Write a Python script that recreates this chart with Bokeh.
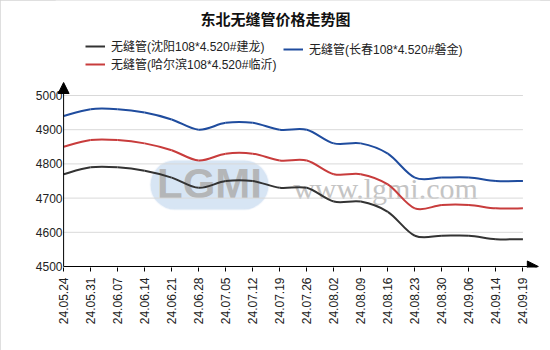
import math
from bokeh.plotting import figure
from bokeh.models import (Range1d, FixedTicker, Legend, LegendItem, Label, Arrow,
                          NormalHead, ColumnDataSource, BoxAnnotation)
from bokeh.embed import file_html
from bokeh.resources import INLINE

# ---- data ----
dates = ["24.05.24", "24.05.31", "24.06.07", "24.06.14", "24.06.21", "24.06.28",
         "24.07.05", "24.07.12", "24.07.19", "24.07.26", "24.08.02", "24.08.09",
         "24.08.16", "24.08.23", "24.08.30", "24.09.06", "24.09.14", "24.09.19"]
shenyang = [4770, 4790, 4790, 4780, 4760, 4730, 4750, 4750, 4730, 4730,
            4690, 4690, 4660, 4590, 4590, 4590, 4580, 4580]
changchun = [4940, 4960, 4960, 4950, 4930, 4900, 4920, 4920, 4900, 4900,
             4860, 4860, 4830, 4760, 4760, 4760, 4750, 4750]
harbin = [4850, 4870, 4870, 4860, 4840, 4810, 4830, 4830, 4810, 4810,
          4770, 4770, 4740, 4670, 4680, 4680, 4670, 4670]
y_ticks = [4500, 4600, 4700, 4800, 4900, 5000]
title_text = "东北无缝管价格走势图"

series = [
    ("无缝管(沈阳108*4.520#建龙)", shenyang, "#333333"),
    ("无缝管(长春108*4.520#磐金)", changchun, "#1f4c9e"),
    ("无缝管(哈尔滨108*4.520#临沂)", harbin, "#c83c3c"),
]

FONT = "Liberation Sans, 'Noto Sans CJK SC'"

n = len(dates)
xs = list(range(n))
X0, X1 = -0.3, 17.65
PX = 0.342          # pixels per price unit
Y0 = 4497.08
Y1 = Y0 + 267 / PX
Y_ARROW = 5038

p = figure(width=550, height=350, output_backend="svg", toolbar_location=None,
           title=None,
           x_range=Range1d(X0, X1), y_range=Range1d(Y0, Y1),
           min_border_left=55, min_border_right=10, min_border_top=0,
           min_border_bottom=83)
p.outline_line_color = None
p.background_fill_color = "white"
p.border_fill_color = "white"
p.xgrid.visible = False
p.ygrid.visible = False
p.styles = {"outline": "1px solid #d4d4d4", "outline-offset": "-1px"}

# watermark (logo + url), under the data
p.add_layout(BoxAnnotation(left=95, right=213, top=107, bottom=58,
                           left_units="screen", right_units="screen",
                           top_units="screen", bottom_units="screen",
                           fill_color="#c6daf0", fill_alpha=0.7, line_color="#dfe9f6",
                           line_width=2, border_radius=26, level="underlay"))
p.add_layout(Label(x=154, y=84, x_units="screen", y_units="screen", text="LGMI",
                   text_font="Liberation Sans", text_font_size="42px", text_font_style="bold",
                   text_color="#b0b0b0", text_alpha=0.9, text_align="center",
                   text_baseline="middle", level="underlay"))
p.add_layout(Label(x=330, y=79, x_units="screen", y_units="screen", text="www.lgmi.com",
                   text_font="Liberation Serif", text_font_size="30px", text_color="#c4c4c4",
                   text_align="center", text_baseline="alphabetic", level="underlay"))

# horizontal grid lines
gx0 = [xs[0]] * (len(y_ticks) - 1)
gx1 = [xs[-1]] * (len(y_ticks) - 1)
p.segment(x0=gx0, y0=y_ticks[1:], x1=gx1, y1=y_ticks[1:], line_color="#d9d9d9", line_width=1)

# smooth curves (bezier segments through data points)
renderers = []
for name, ys, col in series:
    x0, y0, x1, y1, cx0, cy0, cx1, cy1 = [], [], [], [], [], [], [], []
    for i in range(n - 1):
        ip = max(i - 1, 0)
        inn = min(i + 2, n - 1)
        x0.append(xs[i]); y0.append(ys[i])
        x1.append(xs[i + 1]); y1.append(ys[i + 1])
        cx0.append(xs[i] + (xs[i + 1] - xs[ip]) / 6)
        cy0.append(ys[i] + (ys[i + 1] - ys[ip]) / 6)
        cx1.append(xs[i + 1] - (xs[inn] - xs[i]) / 6)
        cy1.append(ys[i + 1] - (ys[inn] - ys[i]) / 6)
    src = ColumnDataSource(dict(x0=x0, y0=y0, x1=x1, y1=y1, cx0=cx0, cy0=cy0, cx1=cx1, cy1=cy1))
    p.bezier(x0="x0", y0="y0", x1="x1", y1="y1", cx0="cx0", cy0="cy0", cx1="cx1", cy1="cy1",
             source=src, line_color=col, line_width=2)
    # single-point line: draws nothing itself, used for the legend sample
    r = p.line(x=xs[:1], y=ys[:1], line_color=col, line_width=2)
    renderers.append(r)

# axes (lines hidden, drawn as arrows below)
p.xaxis.ticker = FixedTicker(ticks=xs)
p.xaxis.major_label_overrides = {i: d for i, d in enumerate(dates)}
p.xaxis.major_label_orientation = math.pi / 2
p.xaxis.minor_tick_line_color = None
p.xaxis.major_tick_out = 4
p.xaxis.major_tick_in = 0
p.xaxis.major_label_standoff = 6
p.xaxis.axis_line_color = None
p.xaxis.major_tick_line_color = "black"

p.yaxis.ticker = FixedTicker(ticks=y_ticks)
p.yaxis.minor_tick_line_color = None
p.yaxis.major_tick_out = 0
p.yaxis.major_tick_in = 0
p.yaxis.major_label_standoff = -7
p.yaxis.axis_line_color = None

for ax in (p.xaxis, p.yaxis):
    ax.major_label_text_font = FONT
    ax.major_label_text_font_size = "12px"
    ax.major_label_text_color = "#222222"

# axis lines with arrow heads
p.add_layout(Arrow(x_start=xs[0], y_start=y_ticks[0], x_end=17.57, y_end=y_ticks[0],
                   line_color="black", line_width=1,
                   end=NormalHead(size=11, fill_color="black", line_color="black")))
p.add_layout(Arrow(x_start=xs[0], y_start=y_ticks[0], x_end=xs[0], y_end=Y_ARROW,
                   line_color="black", line_width=1,
                   end=NormalHead(size=11, fill_color="black", line_color="black")))

# title
p.add_layout(Label(x=220, y=249, x_units="screen", y_units="screen", text=title_text,
                   text_font="'Noto Sans CJK SC'", text_font_size="15px", text_font_style="bold",
                   text_color="#111111", text_align="center", text_baseline="middle"))

# legends
def mk_legend(items, loc):
    return Legend(items=items, location=loc, orientation="vertical",
                  label_text_font=FONT, label_text_font_size="12px", label_text_color="#222222",
                  glyph_width=20, glyph_height=14, label_height=14, label_standoff=6,
                  spacing=1, padding=0, margin=0, border_line_color=None,
                  background_fill_alpha=0)

legA = mk_legend([LegendItem(label=series[0][0], renderers=[renderers[0]]),
                  LegendItem(label=series[2][0], renderers=[renderers[2]])], (30, 195))
legB = mk_legend([LegendItem(label=series[1][0], renderers=[renderers[1]])], (228, 210))
p.add_layout(legA, "center")
p.add_layout(legB, "center")

open("out.html", "w").write(file_html(p, INLINE))
